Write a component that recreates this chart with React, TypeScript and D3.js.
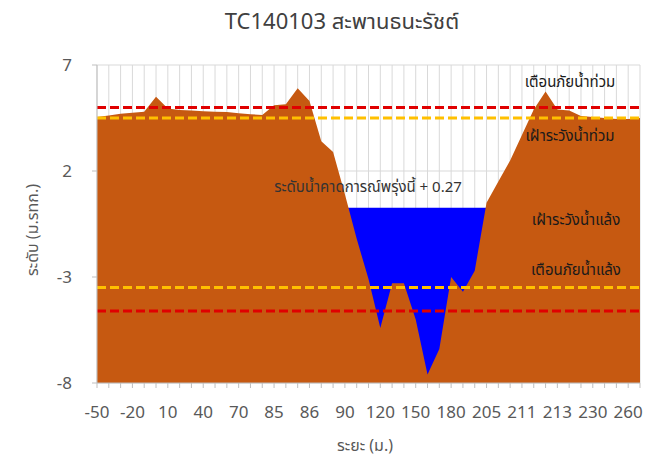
import React from "react";
import * as d3 from "d3";

const categories: string[] = [
  "-50", "-40", "-30", "-20", "-10", "0", "10", "20", "30", "40", "50", "60", "70", "75", "80", "85",
  "85.3", "85.6", "86", "87", "88", "90", "100", "110", "120", "130", "140", "150", "160", "170", "180",
  "190", "200", "205", "207", "209", "211", "211.7", "212.3", "213", "219", "224", "230", "240", "250", "260", "270",
];

const ground: number[] = [
  4.55, 4.62, 4.7, 4.75, 4.8, 5.5, 4.95, 4.88, 4.85, 4.82, 4.8, 4.78, 4.72, 4.68, 4.64, 5.1,
  5.15, 5.9, 5.3, 3.4, 2.9, 0.9, -1.2, -3.1, -5.4, -3.3, -3.3, -5.0, -7.6, -6.4, -3.0,
  -3.7, -2.7, 0.5, 1.5, 2.5, 3.7, 4.9, 5.75, 4.9, 4.85, 4.6, 4.55, 4.5, 4.45, 4.45, 4.5,
];

const waterLevel = 0.27;
const floodWarning = 5.0;
const floodWatch = 4.5;
const droughtWatch = -3.5;
const droughtWarning = -4.6;

const yTicks: number[] = [7, 2, -3, -8];
const labelEvery = 3;

const title = "TC140103 สะพานธนะรัชต์";
const xTitle = "ระยะ (ม.)";
const yTitle = "ระดับ (ม.รทก.)";
const waterText = "ระดับน้ำคาดการณ์พรุ่งนี้ + 0.27";

const W = 647;
const H = 459;
const L = 97;
const R = 640;
const T = 65;
const B = 383;
const FONT = "Tahoma, 'Noto Sans Thai', 'Noto Sans', 'DejaVu Sans', sans-serif";

export default function App() {
  const x = d3.scalePoint<string>().domain(categories).range([L, R]);
  const y = d3.scaleLinear().domain([-8, 7]).range([B, T]);

  const groundArea = d3
    .area<number>()
    .x((_, i) => x(categories[i]) as number)
    .y0(y(-8))
    .y1((d) => y(d));

  const waterArea = d3
    .area<string>()
    .x((c) => x(c) as number)
    .y0(y(-8))
    .y1(y(waterLevel));

  const hLine = (v: number, color: string, key: string) => (
    <line
      key={key}
      x1={L}
      x2={R}
      y1={y(v)}
      y2={y(v)}
      stroke={color}
      strokeWidth={3}
      strokeDasharray="9,4"
    />
  );

  return (
    <svg
      width={W}
      height={H}
      style={{ position: "absolute", left: 0, top: 0, background: "#fff" }}
      fontFamily={FONT}
    >
      <rect x={0} y={0} width={W} height={H} fill="#fff" />
      {yTicks.map((t) => (
        <line key={"hg" + t} x1={L} x2={R} y1={y(t)} y2={y(t)} stroke="#d9d9d9" strokeWidth={1} />
      ))}
      {categories.map((c) => (
        <line key={"vg" + c} x1={x(c)} x2={x(c)} y1={T} y2={B} stroke="#d9d9d9" strokeWidth={1} />
      ))}
      <path d={waterArea(categories) || ""} fill="#0000ff" />
      <path d={groundArea(ground) || ""} fill="#c65911" />
      {hLine(floodWarning, "#e00000", "fw")}
      {hLine(floodWatch, "#ffc000", "fwa")}
      {hLine(droughtWatch, "#ffc000", "dwa")}
      {hLine(droughtWarning, "#e00000", "dw")}
      <line x1={L} x2={L} y1={T} y2={B} stroke="#bfbfbf" />
      <line x1={L} x2={R} y1={B} y2={B} stroke="#bfbfbf" />
      {yTicks.map((t) => (
        <g key={"yt" + t}>
          <line x1={L - 5} x2={L} y1={y(t)} y2={y(t)} stroke="#bfbfbf" />
          <text x={72} y={y(t)} dy="0.35em" textAnchor="end" fontSize={17} fill="#595959">
            {t}
          </text>
        </g>
      ))}
      {categories.map((c, i) => (
        <g key={"xt" + c}>
          <line x1={x(c)} x2={x(c)} y1={B} y2={B + 5} stroke="#bfbfbf" />
          {i % labelEvery === 0 && (
            <text x={x(c)} y={418} textAnchor="middle" fontSize={17} fill="#595959">
              {c}
            </text>
          )}
        </g>
      ))}
      <text x={342} y={29} textAnchor="middle" fontSize={22} fill="#404040">
        {title}
      </text>
      <text x={365} y={451} textAnchor="middle" fontSize={16} fill="#595959">
        {xTitle}
      </text>
      <text
        transform={`translate(38, 230) rotate(-90)`}
        textAnchor="middle"
        fontSize={16}
        fill="#595959"
      >
        {yTitle}
      </text>
      <text x={570} y={87} textAnchor="middle" fontSize={15} fill="#1a1a1a">
        เตือนภัยน้ำท่วม
      </text>
      <text x={570} y={141} textAnchor="middle" fontSize={15} fill="#1a1a1a">
        เฝ้าระวังน้ำท่วม
      </text>
      <text x={368} y={192} textAnchor="middle" fontSize={15} fill="#333">
        {waterText}
      </text>
      <text x={576} y={225} textAnchor="middle" fontSize={15} fill="#1a1a1a">
        เฝ้าระวังน้ำแล้ง
      </text>
      <text x={576} y={275} textAnchor="middle" fontSize={15} fill="#1a1a1a">
        เตือนภัยน้ำแล้ง
      </text>
    </svg>
  );
}
